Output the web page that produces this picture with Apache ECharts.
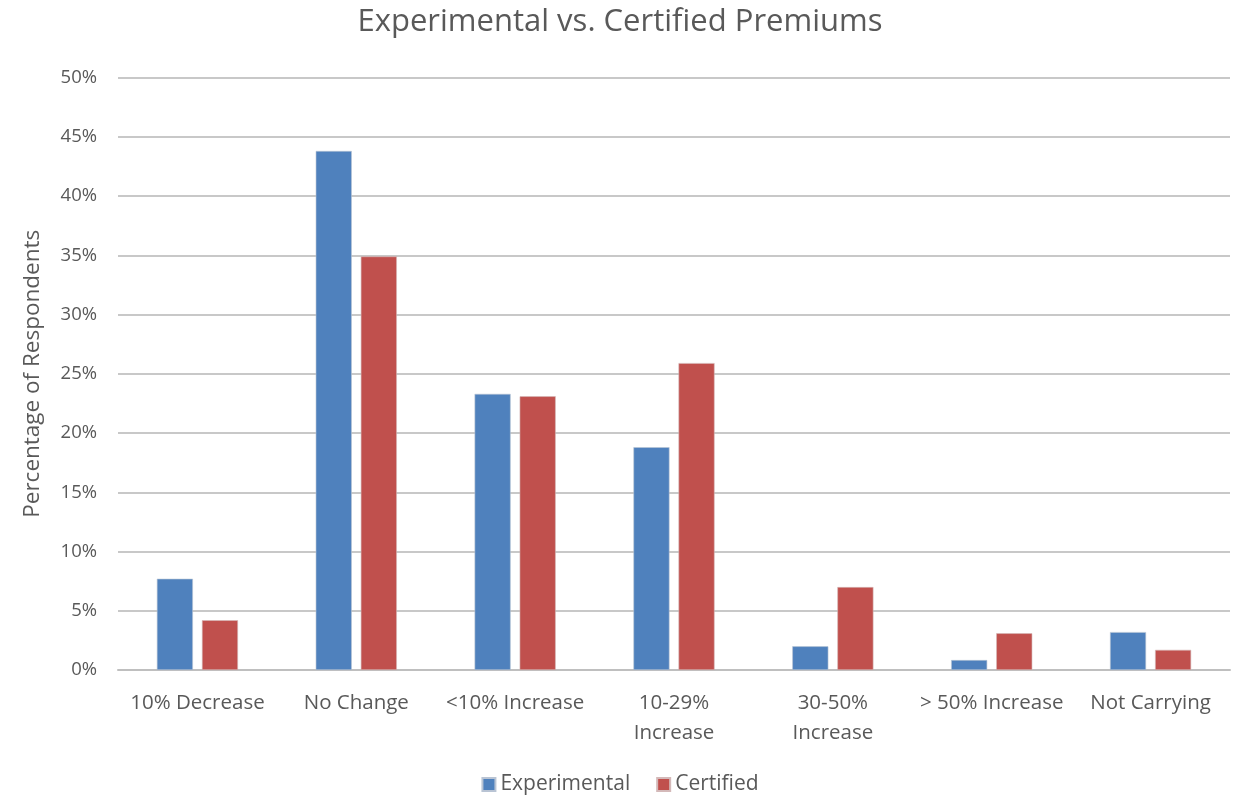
<!DOCTYPE html>
<html>
<head>
<meta charset="utf-8">
<script src="https://cdn.jsdelivr.net/npm/echarts@6/dist/echarts.min.js"></script>
<style>
  html, body { margin: 0; padding: 0; background: #fff; }
  #chart { width: 1240px; height: 795px; }
</style>
</head>
<body>
<div id="chart"></div>
<script>
// Premium change categories and share of respondents (%)
const categories = ['10% Decrease', 'No Change', '<10% Increase', '10-29%\nIncrease', '30-50%\nIncrease', '> 50% Increase', 'Not Carrying'];
const experimental = [7.7, 43.8, 23.3, 18.8, 2.0, 0.84, 3.2];
const certified = [4.2, 34.9, 23.1, 25.9, 7.0, 3.1, 1.7];
const yTicks = [0, 5, 10, 15, 20, 25, 30, 35, 40, 45, 50];

const font = '"Open Sans", "Liberation Sans", sans-serif';
const textColor = '#595959';

const chart = echarts.init(document.getElementById('chart'));
chart.setOption({
  animation: false,
  backgroundColor: '#fff',
  title: {
    text: 'Experimental vs. Certified Premiums',
    left: 'center',
    top: 2,
    textStyle: { fontFamily: font, fontSize: 31, fontWeight: 'normal', color: textColor }
  },
  legend: {
    top: 769,
    left: 'center',
    itemWidth: 13,
    itemHeight: 13,
    itemGap: 26,
    icon: 'rect',
    textStyle: { fontFamily: font, fontSize: 21, color: textColor },
    data: ['Experimental', 'Certified']
  },
  grid: { left: 118, right: 10, top: 77.5, bottom: 125, containLabel: false },
  xAxis: {
    type: 'category',
    data: categories,
    axisLine: { lineStyle: { color: '#BFBFBF', width: 2 } },
    axisTick: { show: false },
    axisLabel: {
      fontFamily: font, fontSize: 20.5, color: textColor,
      margin: 18, lineHeight: 30, interval: 0
    }
  },
  yAxis: {
    type: 'value',
    min: yTicks[0],
    max: yTicks[yTicks.length - 1],
    interval: 5,
    name: 'Percentage of Respondents',
    nameLocation: 'middle',
    nameGap: 74,
    nameTextStyle: { fontFamily: font, fontSize: 22.5, color: textColor },
    axisLine: { show: false },
    axisTick: { show: false },
    axisLabel: {
      fontFamily: font, fontSize: 18.5, color: textColor, margin: 21,
      formatter: v => v + '%'
    },
    splitLine: { lineStyle: { color: '#C8C8C8', width: 2 } }
  },
  series: [
    {
      name: 'Experimental',
      type: 'bar',
      data: experimental,
      barWidth: '22.7%',
      barGap: '25%',
      itemStyle: { color: '#4F81BD', borderColor: '#B9C4D4', borderWidth: 0.6 }
    },
    {
      name: 'Certified',
      type: 'bar',
      data: certified,
      barWidth: '22.7%',
      barGap: '25%',
      itemStyle: { color: '#C0504D', borderColor: '#D4B9B9', borderWidth: 0.6 }
    }
  ]
});
</script>
</body>
</html>
